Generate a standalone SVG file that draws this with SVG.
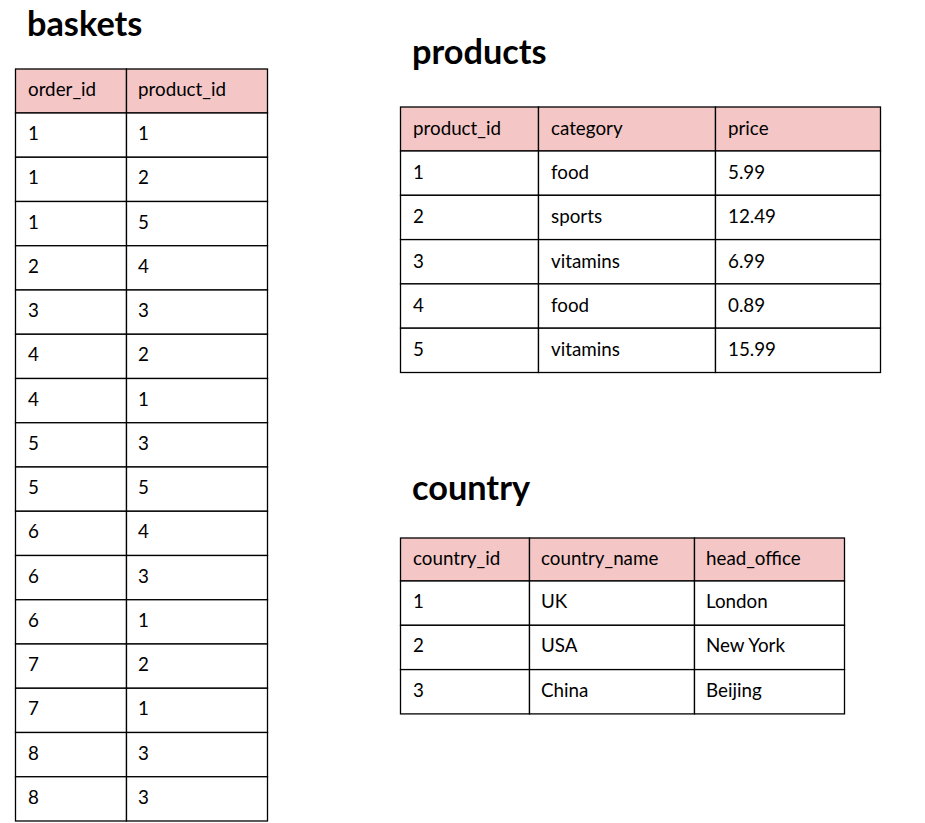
<svg xmlns="http://www.w3.org/2000/svg" width="925" height="823" viewBox="0 0 925 823">
<style>
.title{font-family:Lato,"Open Sans","Liberation Sans",sans-serif;font-weight:bold;font-size:34.3px;fill:#000}
.t{font-family:Lato,"Open Sans","Liberation Sans",sans-serif;font-size:18.8px;fill:#000}
.hd{fill:#F4C6C6;stroke:#000;stroke-width:1.3}
.cell{fill:#fff;stroke:#000;stroke-width:1.3}
</style>
<rect width="925" height="823" fill="#fff"/>
<g id="baskets">
<text class="title" x="27" y="36">baskets</text>
<rect class="hd" x="15.5" y="69" width="111" height="44"/>
<rect class="hd" x="126.5" y="69" width="141" height="44"/>
<text class="t" x="28" y="96">order_id</text>
<text class="t" x="138" y="96">product_id</text>
<g>
<rect class="cell" x="15.5" y="113" width="111" height="44.25"/><rect class="cell" x="126.5" y="113" width="141" height="44.25"/>
<rect class="cell" x="15.5" y="157.25" width="111" height="44.25"/><rect class="cell" x="126.5" y="157.25" width="141" height="44.25"/>
<rect class="cell" x="15.5" y="201.5" width="111" height="44.25"/><rect class="cell" x="126.5" y="201.5" width="141" height="44.25"/>
<rect class="cell" x="15.5" y="245.75" width="111" height="44.25"/><rect class="cell" x="126.5" y="245.75" width="141" height="44.25"/>
<rect class="cell" x="15.5" y="290" width="111" height="44.25"/><rect class="cell" x="126.5" y="290" width="141" height="44.25"/>
<rect class="cell" x="15.5" y="334.25" width="111" height="44.25"/><rect class="cell" x="126.5" y="334.25" width="141" height="44.25"/>
<rect class="cell" x="15.5" y="378.5" width="111" height="44.25"/><rect class="cell" x="126.5" y="378.5" width="141" height="44.25"/>
<rect class="cell" x="15.5" y="422.75" width="111" height="44.25"/><rect class="cell" x="126.5" y="422.75" width="141" height="44.25"/>
<rect class="cell" x="15.5" y="467" width="111" height="44.25"/><rect class="cell" x="126.5" y="467" width="141" height="44.25"/>
<rect class="cell" x="15.5" y="511.25" width="111" height="44.25"/><rect class="cell" x="126.5" y="511.25" width="141" height="44.25"/>
<rect class="cell" x="15.5" y="555.5" width="111" height="44.25"/><rect class="cell" x="126.5" y="555.5" width="141" height="44.25"/>
<rect class="cell" x="15.5" y="599.75" width="111" height="44.25"/><rect class="cell" x="126.5" y="599.75" width="141" height="44.25"/>
<rect class="cell" x="15.5" y="644" width="111" height="44.25"/><rect class="cell" x="126.5" y="644" width="141" height="44.25"/>
<rect class="cell" x="15.5" y="688.25" width="111" height="44.25"/><rect class="cell" x="126.5" y="688.25" width="141" height="44.25"/>
<rect class="cell" x="15.5" y="732.5" width="111" height="44.25"/><rect class="cell" x="126.5" y="732.5" width="141" height="44.25"/>
<rect class="cell" x="15.5" y="776.75" width="111" height="44.25"/><rect class="cell" x="126.5" y="776.75" width="141" height="44.25"/>
</g>
<g>
<text class="t" x="28" y="140">1</text><text class="t" x="138" y="140">1</text>
<text class="t" x="28" y="184.25">1</text><text class="t" x="138" y="184.25">2</text>
<text class="t" x="28" y="228.5">1</text><text class="t" x="138" y="228.5">5</text>
<text class="t" x="28" y="272.75">2</text><text class="t" x="138" y="272.75">4</text>
<text class="t" x="28" y="317">3</text><text class="t" x="138" y="317">3</text>
<text class="t" x="28" y="361.25">4</text><text class="t" x="138" y="361.25">2</text>
<text class="t" x="28" y="405.5">4</text><text class="t" x="138" y="405.5">1</text>
<text class="t" x="28" y="449.75">5</text><text class="t" x="138" y="449.75">3</text>
<text class="t" x="28" y="494">5</text><text class="t" x="138" y="494">5</text>
<text class="t" x="28" y="538.25">6</text><text class="t" x="138" y="538.25">4</text>
<text class="t" x="28" y="582.5">6</text><text class="t" x="138" y="582.5">3</text>
<text class="t" x="28" y="626.75">6</text><text class="t" x="138" y="626.75">1</text>
<text class="t" x="28" y="671">7</text><text class="t" x="138" y="671">2</text>
<text class="t" x="28" y="715.25">7</text><text class="t" x="138" y="715.25">1</text>
<text class="t" x="28" y="759.5">8</text><text class="t" x="138" y="759.5">3</text>
<text class="t" x="28" y="803.75">8</text><text class="t" x="138" y="803.75">3</text>
</g>
</g>
<g id="products">
<text class="title" x="412" y="64">products</text>
<rect class="hd" x="400.5" y="107" width="138" height="44"/>
<rect class="hd" x="538.5" y="107" width="177" height="44"/>
<rect class="hd" x="715.5" y="107" width="165" height="44"/>
<text class="t" x="413" y="135">product_id</text>
<text class="t" x="551" y="135">category</text>
<text class="t" x="728" y="135">price</text>
<rect class="cell" x="400.5" y="151" width="138" height="44.3"/><rect class="cell" x="538.5" y="151" width="177" height="44.3"/><rect class="cell" x="715.5" y="151" width="165" height="44.3"/>
<rect class="cell" x="400.5" y="195.3" width="138" height="44.3"/><rect class="cell" x="538.5" y="195.3" width="177" height="44.3"/><rect class="cell" x="715.5" y="195.3" width="165" height="44.3"/>
<rect class="cell" x="400.5" y="239.6" width="138" height="44.3"/><rect class="cell" x="538.5" y="239.6" width="177" height="44.3"/><rect class="cell" x="715.5" y="239.6" width="165" height="44.3"/>
<rect class="cell" x="400.5" y="283.9" width="138" height="44.3"/><rect class="cell" x="538.5" y="283.9" width="177" height="44.3"/><rect class="cell" x="715.5" y="283.9" width="165" height="44.3"/>
<rect class="cell" x="400.5" y="328.2" width="138" height="44.3"/><rect class="cell" x="538.5" y="328.2" width="177" height="44.3"/><rect class="cell" x="715.5" y="328.2" width="165" height="44.3"/>
<text class="t" x="413" y="179">1</text><text class="t" x="551" y="179">food</text><text class="t" x="728" y="179">5.99</text>
<text class="t" x="413" y="223.3">2</text><text class="t" x="551" y="223.3">sports</text><text class="t" x="728" y="223.3">12.49</text>
<text class="t" x="413" y="267.6">3</text><text class="t" x="551" y="267.6">vitamins</text><text class="t" x="728" y="267.6">6.99</text>
<text class="t" x="413" y="311.9">4</text><text class="t" x="551" y="311.9">food</text><text class="t" x="728" y="311.9">0.89</text>
<text class="t" x="413" y="356.2">5</text><text class="t" x="551" y="356.2">vitamins</text><text class="t" x="728" y="356.2">15.99</text>
</g>
<g id="country">
<text class="title" x="412" y="500">country</text>
<rect class="hd" x="400.5" y="538" width="129" height="43"/>
<rect class="hd" x="529.5" y="538" width="165" height="43"/>
<rect class="hd" x="694.5" y="538" width="150" height="43"/>
<text class="t" x="413" y="565">country_id</text>
<text class="t" x="541" y="565">country_name</text>
<text class="t" x="706" y="565">head_office</text>
<rect class="cell" x="400.5" y="581" width="129" height="44.3"/><rect class="cell" x="529.5" y="581" width="165" height="44.3"/><rect class="cell" x="694.5" y="581" width="150" height="44.3"/>
<rect class="cell" x="400.5" y="625.3" width="129" height="44.3"/><rect class="cell" x="529.5" y="625.3" width="165" height="44.3"/><rect class="cell" x="694.5" y="625.3" width="150" height="44.3"/>
<rect class="cell" x="400.5" y="669.6" width="129" height="44.3"/><rect class="cell" x="529.5" y="669.6" width="165" height="44.3"/><rect class="cell" x="694.5" y="669.6" width="150" height="44.3"/>
<text class="t" x="413" y="608">1</text><text class="t" x="541" y="608">UK</text><text class="t" x="706" y="608">London</text>
<text class="t" x="413" y="652.3">2</text><text class="t" x="541" y="652.3">USA</text><text class="t" x="706" y="652.3">New York</text>
<text class="t" x="413" y="696.6">3</text><text class="t" x="541" y="696.6">China</text><text class="t" x="706" y="696.6">Beijing</text>
</g>
</svg>
